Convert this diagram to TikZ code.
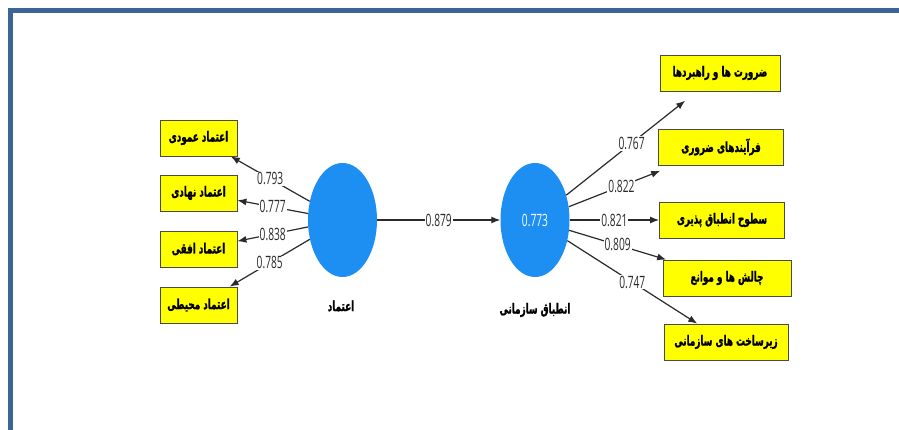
\documentclass[tikz,border=0pt]{standalone}
\usepackage{fontspec}
\usetikzlibrary{arrows.meta,shapes.geometric}
\TeXXeTstate=1
\newfontfamily\plsnum[FakeStretch=0.6]{Open Sans}
\newfontfamily\plsfa[Script=Arabic,FakeStretch=0.63,BoldFeatures={FakeBold=1.2}]{DejaVu Sans}
\definecolor{plsFrame}{HTML}{3C6496}
\definecolor{plsBlue}{HTML}{1E8FF2}
\definecolor{plsYellow}{HTML}{FFFF00}
\definecolor{plsEdge}{HTML}{4A4A4A}
\definecolor{plsLine}{HTML}{2A2A2A}
\tikzset{
  pls frame/.style={draw=plsFrame, line width=4.6pt},
  pls latent/.style={ellipse, fill=plsBlue, minimum width=69pt, minimum height=114pt, inner sep=0pt, text=white, font=\plsnum\fontsize{17}{17}\selectfont},
  pls item/.style={rectangle, draw=plsEdge, fill=plsYellow, line width=0.8pt, minimum height=36pt, inner sep=0pt, font=\plsfa\bfseries\fontsize{14}{14}\selectfont},
  pls path/.style={draw=plsLine, line width=1.2pt, -{Latex[length=9pt,width=7pt]}},
  pls coef/.style={fill=white, inner sep=1pt, font=\plsnum\fontsize{17}{17}\selectfont, text=plsLine},
  pls name/.style={font=\plsfa\bfseries\fontsize{14}{14}\selectfont},
}

\begin{document}
\begin{tikzpicture}[x=1pt, y=-1pt]
  \useasboundingbox[fill=white] (0,0) rectangle (899,430);
  \draw[pls frame] (10.3,430) -- (10.3,10.3) -- (899,10.3);

  % latent variables
  \node[pls latent] (trust) at (342.5,220) {};
  \node[pls latent] (align) at (535,220) {0.773};
  \node[pls name] (trustname) at (341,306) {\beginR اعتماد\endR};
  \node[pls name] (alignname) at (535,310) {\beginR انطباق سازمانی\endR};

  % indicators of the first construct
  \node[pls item, minimum width=77pt] (ti1) at (198.5,138) {\beginR اعتماد عمودی\endR};
  \node[pls item, minimum width=77pt] (ti2) at (198.5,193) {\beginR اعتماد نهادی\endR};
  \node[pls item, minimum width=77pt] (ti3) at (198.5,249) {\beginR اعتماد افقی\endR};
  \node[pls item, minimum width=77pt] (ti4) at (198.5,305) {\beginR اعتماد محیطی\endR};

  % indicators of the second construct
  \node[pls item, minimum width=120pt] (ai1) at (720,73) {\beginR ضرورت ها و راهبردها\endR};
  \node[pls item, minimum width=125pt] (ai2) at (721,147) {\beginR فرآیندهای ضروری\endR};
  \node[pls item, minimum width=125pt] (ai3) at (722,220) {\beginR سطوح انطباق پذیری\endR};
  \node[pls item, minimum width=128pt] (ai4) at (727,278) {\beginR چالش ها و موانع\endR};
  \node[pls item, minimum width=124pt] (ai5) at (726,342) {\beginR زیرساخت های سازمانی\endR};

  % loadings and path coefficient
  \draw[pls path] (trust) -- node[pls coef] {0.793} (ti1);
  \draw[pls path] (trust) -- node[pls coef] {0.777} (ti2);
  \draw[pls path] (trust) -- node[pls coef] {0.838} (ti3);
  \draw[pls path] (trust) -- node[pls coef] {0.785} (ti4);
  \draw[pls path] (trust) -- node[pls coef] {0.879} (align);
  \draw[pls path, shorten >=15pt] (align) -- node[pls coef] {0.767} (ai1);
  \draw[pls path, shorten >=15pt] (align) -- node[pls coef] {0.822} (ai2);
  \draw[pls path] (align) -- node[pls coef] {0.821} (ai3);
  \draw[pls path] (align) -- node[pls coef] {0.809} (ai4);
  \draw[pls path] (align) -- node[pls coef] {0.747} (ai5);
\end{tikzpicture}
\end{document}
